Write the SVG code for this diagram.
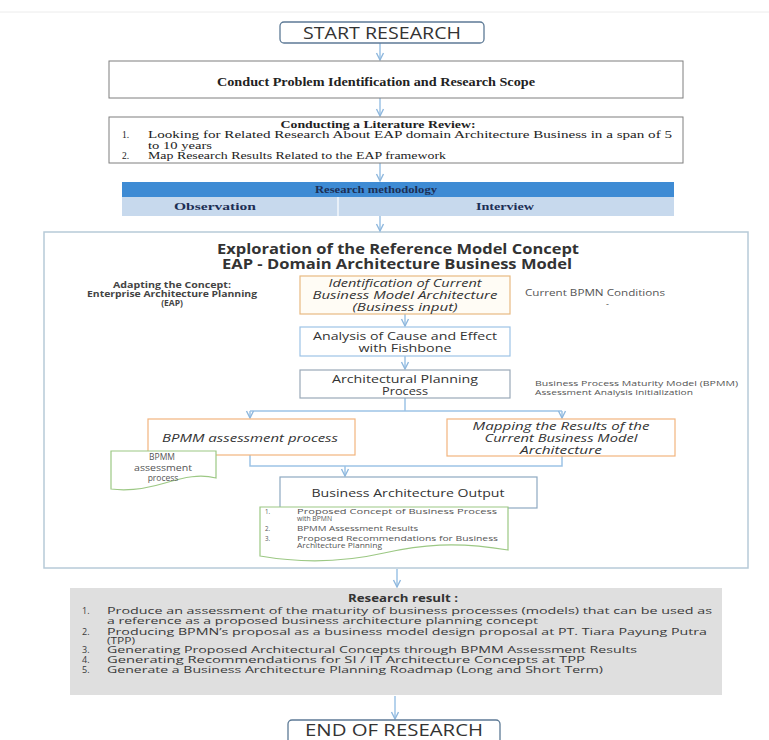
<svg xmlns="http://www.w3.org/2000/svg" width="769" height="740" viewBox="0 0 769 740">
<defs>
<style>
.serif{font-family:"Liberation Serif","Times New Roman",serif;fill:#222}
.sans{font-family:"Open Sans","Liberation Sans",Arial,sans-serif;fill:#333}
.b{font-weight:bold}
.i{font-style:italic}
.c{text-anchor:middle}
.box{fill:#fff;stroke:#7f7f7f;stroke-width:1}
.term{fill:#fff;stroke:#5d7a96;stroke-width:1.3}
.orange{fill:#fff;stroke:#f2b47e;stroke-width:1.2}
.note{fill:#fff;stroke:#9cc884;stroke-width:1.2}
.conn{fill:none;stroke:#9dc3e6;stroke-width:1.5}
.res{font-size:9px;fill:#3a3a3a}
.nt{font-size:6.2px;fill:#555}
</style>
<marker id="ah" markerUnits="userSpaceOnUse" markerWidth="10" markerHeight="10" refX="8" refY="5" orient="auto">
<path d="M1,1.5 L8,5 L1,8.5" fill="none" stroke="#8fb8de" stroke-width="1.4"/>
</marker>
</defs>
<rect x="0" y="0" width="769" height="740" fill="#fff"/>
<line x1="0" y1="12" x2="769" y2="12" stroke="#ececec" stroke-width="1"/>

<g id="exploration-frame">
<rect x="44" y="232" width="704" height="336" fill="#fff" stroke="#b7cad8" stroke-width="1.5"/>
<text class="sans b c" x="398" y="254" font-size="14" textLength="362" lengthAdjust="spacingAndGlyphs">Exploration of the Reference Model Concept</text>
<text class="sans b c" x="397" y="269" font-size="14" textLength="350" lengthAdjust="spacingAndGlyphs">EAP - Domain Architecture Business Model</text>
</g>

<g id="connectors">
<line class="conn" x1="380" y1="43" x2="380" y2="60" marker-end="url(#ah)"/>
<line class="conn" x1="380" y1="98" x2="380" y2="116" marker-end="url(#ah)"/>
<line class="conn" x1="380" y1="163" x2="380" y2="181" marker-end="url(#ah)"/>
<line class="conn" x1="380" y1="216" x2="380" y2="231" marker-end="url(#ah)"/>
<line class="conn" x1="405" y1="314" x2="405" y2="326" marker-end="url(#ah)"/>
<line class="conn" x1="405" y1="356" x2="405" y2="369" marker-end="url(#ah)"/>
<path class="conn" d="M405,398 V411 M250,411 H562"/>
<line class="conn" x1="250" y1="411" x2="250" y2="418" marker-end="url(#ah)"/>
<line class="conn" x1="562" y1="411" x2="562" y2="418" marker-end="url(#ah)"/>
<path class="conn" d="M250,455 V466 H562 V456"/>
<line class="conn" x1="345" y1="466" x2="345" y2="476" marker-end="url(#ah)"/>
<line class="conn" x1="397" y1="569" x2="397" y2="587" marker-end="url(#ah)"/>
<line class="conn" x1="395" y1="696" x2="395" y2="719" marker-end="url(#ah)"/>
</g>

<g id="start">
<rect class="term" x="280" y="22" width="204" height="21" rx="4"/>
<text class="sans c" x="382" y="38.5" font-size="15.5" textLength="158" lengthAdjust="spacingAndGlyphs">START RESEARCH</text>
</g>

<g id="problem-identification">
<rect class="box" x="109" y="61" width="574" height="37"/>
<text class="serif b c" x="376" y="86" font-size="11.5" textLength="318" lengthAdjust="spacingAndGlyphs">Conduct Problem Identification and Research Scope</text>
</g>

<g id="literature-review">
<rect class="box" x="109" y="117" width="574" height="46"/>
<text class="serif b c" x="378" y="127.5" font-size="10.5" textLength="195" lengthAdjust="spacingAndGlyphs">Conducting a Literature Review:</text>
<text class="serif" x="122" y="138" font-size="9.5">1.</text>
<text class="serif" x="148" y="138" font-size="9.5" textLength="524" lengthAdjust="spacingAndGlyphs">Looking for Related Research About EAP domain Architecture Business in a span of 5</text>
<text class="serif" x="148" y="148.5" font-size="9.5" textLength="64" lengthAdjust="spacingAndGlyphs">to 10 years</text>
<text class="serif" x="122" y="159" font-size="9.5">2.</text>
<text class="serif" x="148" y="159" font-size="9.5" textLength="298" lengthAdjust="spacingAndGlyphs">Map Research Results Related to the EAP framework</text>
</g>

<g id="research-methodology">
<rect x="122" y="182" width="552" height="15" fill="#3e8bd4"/>
<rect x="122" y="197" width="552" height="19" fill="#c7d9ed"/>
<line x1="338" y1="197" x2="338" y2="216" stroke="#fff" stroke-width="1.2"/>
<text class="serif b c" x="376" y="193" font-size="10" style="fill:#1d2f55" textLength="122" lengthAdjust="spacingAndGlyphs">Research methodology</text>
<text class="serif b c" x="215" y="210" font-size="10" style="fill:#1d2f55" textLength="82" lengthAdjust="spacingAndGlyphs">Observation</text>
<text class="serif b c" x="505" y="210" font-size="10" style="fill:#1d2f55" textLength="58" lengthAdjust="spacingAndGlyphs">Interview</text>
</g>

<g id="adapting-concept">
<text class="sans b c" x="172" y="288" font-size="8.5" style="fill:#444" textLength="118" lengthAdjust="spacingAndGlyphs">Adapting the Concept:</text>
<text class="sans b c" x="172" y="297" font-size="8.5" style="fill:#444" textLength="170" lengthAdjust="spacingAndGlyphs">Enterprise Architecture Planning</text>
<text class="sans b c" x="172" y="306" font-size="8.5" style="fill:#444">(EAP)</text>
</g>

<g id="identification">
<rect x="300" y="276" width="210" height="38" fill="#fffcf5" stroke="#e8b982" stroke-width="1.2"/>
<text class="sans i c" x="405" y="287" font-size="11" textLength="153" lengthAdjust="spacingAndGlyphs">Identification of Current</text>
<text class="sans i c" x="405" y="299" font-size="11" textLength="185" lengthAdjust="spacingAndGlyphs">Business Model Architecture</text>
<text class="sans i c" x="405" y="311" font-size="11" textLength="105" lengthAdjust="spacingAndGlyphs">(Business input)</text>
</g>

<g id="current-bpmn">
<text class="sans" x="525" y="296" font-size="9" style="fill:#555" textLength="140" lengthAdjust="spacingAndGlyphs">Current BPMN Conditions</text>
<text class="sans" x="606" y="307" font-size="9" style="fill:#555">-</text>
</g>

<g id="fishbone">
<rect x="300" y="327" width="210" height="29" fill="#fff" stroke="#9dc3e6" stroke-width="1.2"/>
<text class="sans c" x="405" y="340" font-size="11" textLength="184" lengthAdjust="spacingAndGlyphs">Analysis of Cause and Effect</text>
<text class="sans c" x="405" y="352" font-size="11" textLength="93" lengthAdjust="spacingAndGlyphs">with Fishbone</text>
</g>

<g id="architectural-planning">
<rect x="300" y="370" width="210" height="28" fill="#fff" stroke="#9aa9b8" stroke-width="1.2"/>
<text class="sans c" x="405" y="383" font-size="11" textLength="146" lengthAdjust="spacingAndGlyphs">Architectural Planning</text>
<text class="sans c" x="405" y="395" font-size="11" textLength="46" lengthAdjust="spacingAndGlyphs">Process</text>
</g>

<g id="bpmm-init">
<text class="sans" x="535" y="386" font-size="8" style="fill:#555" textLength="203" lengthAdjust="spacingAndGlyphs">Business Process Maturity Model (BPMM)</text>
<text class="sans" x="535" y="395" font-size="8" style="fill:#555" textLength="158" lengthAdjust="spacingAndGlyphs">Assessment Analysis Initialization</text>
</g>

<g id="bpmm-assessment">
<rect class="orange" x="148" y="419" width="207" height="36"/>
<text class="sans i c" x="250" y="442" font-size="11" textLength="176" lengthAdjust="spacingAndGlyphs">BPMM assessment process</text>
</g>

<g id="bpmm-note">
<path class="note" d="M111,451 H216 V478 C200,474 185,477 165,483 C142,490 126,491 111,489 Z"/>
<text class="sans c" x="162" y="460" font-size="8.5" style="fill:#555">BPMM</text>
<text class="sans c" x="163" y="470.5" font-size="8.5" style="fill:#555" textLength="58" lengthAdjust="spacingAndGlyphs">assessment</text>
<text class="sans c" x="163" y="480.5" font-size="8.5" style="fill:#555">process</text>
</g>

<g id="mapping">
<rect class="orange" x="447" y="419" width="228" height="37"/>
<text class="sans i c" x="561" y="429.5" font-size="11" textLength="177" lengthAdjust="spacingAndGlyphs">Mapping the Results of the</text>
<text class="sans i c" x="561" y="442" font-size="11" textLength="153" lengthAdjust="spacingAndGlyphs">Current Business Model</text>
<text class="sans i c" x="561" y="454" font-size="11" textLength="82" lengthAdjust="spacingAndGlyphs">Architecture</text>
</g>

<g id="business-architecture-output">
<rect x="280" y="477" width="257" height="31" fill="#fff" stroke="#8ea9c1" stroke-width="1.2"/>
<text class="sans c" x="408" y="497" font-size="11.5" textLength="193" lengthAdjust="spacingAndGlyphs">Business Architecture Output</text>
</g>

<g id="output-note">
<path class="note" d="M260,507 H508 V550 C455,541 420,545 384,553 C340,563 300,563 260,556 Z"/>
<text class="sans nt" x="265" y="513.5">1.</text>
<text class="sans nt" x="297" y="513.5" textLength="200" lengthAdjust="spacingAndGlyphs">Proposed Concept of Business Process</text>
<text class="sans nt" x="297" y="520.5" textLength="35" lengthAdjust="spacingAndGlyphs">with BPMN</text>
<text class="sans nt" x="265" y="530.5">2.</text>
<text class="sans nt" x="297" y="530.5" textLength="121" lengthAdjust="spacingAndGlyphs">BPMM Assessment Results</text>
<text class="sans nt" x="265" y="540.5">3.</text>
<text class="sans nt" x="297" y="540.5" textLength="201" lengthAdjust="spacingAndGlyphs">Proposed Recommendations for Business</text>
<text class="sans nt" x="297" y="547.5" textLength="85" lengthAdjust="spacingAndGlyphs">Architecture Planning</text>
</g>

<g id="research-result">
<rect x="70" y="588" width="652" height="107" fill="#dfdfdf"/>
<text class="sans b c" x="403" y="602" font-size="10" textLength="110" lengthAdjust="spacingAndGlyphs">Research result :</text>
<text class="sans res" x="82" y="613.5">1.</text>
<text class="sans res" x="107" y="613.5" textLength="605" lengthAdjust="spacingAndGlyphs">Produce an assessment of the maturity of business processes (models) that can be used as</text>
<text class="sans res" x="107" y="624" textLength="431" lengthAdjust="spacingAndGlyphs">a reference as a proposed business architecture planning concept</text>
<text class="sans res" x="82" y="634.5">2.</text>
<text class="sans res" x="107" y="634.5" textLength="600" lengthAdjust="spacingAndGlyphs">Producing BPMN’s proposal as a business model design proposal at PT. Tiara Payung Putra</text>
<text class="sans res" x="107" y="643.5" textLength="28" lengthAdjust="spacingAndGlyphs">(TPP)</text>
<text class="sans res" x="82" y="653">3.</text>
<text class="sans res" x="107" y="653" textLength="530" lengthAdjust="spacingAndGlyphs">Generating Proposed Architectural Concepts through BPMM Assessment Results</text>
<text class="sans res" x="82" y="663">4.</text>
<text class="sans res" x="107" y="663" textLength="478" lengthAdjust="spacingAndGlyphs">Generating Recommendations for SI / IT Architecture Concepts at TPP</text>
<text class="sans res" x="82" y="673">5.</text>
<text class="sans res" x="107" y="673" textLength="496" lengthAdjust="spacingAndGlyphs">Generate a Business Architecture Planning Roadmap (Long and Short Term)</text>
</g>

<g id="end">
<rect class="term" x="288" y="720" width="212" height="30" rx="4"/>
<text class="sans c" x="394" y="736" font-size="15.5" textLength="178" lengthAdjust="spacingAndGlyphs">END OF RESEARCH</text>
</g>
</svg>
